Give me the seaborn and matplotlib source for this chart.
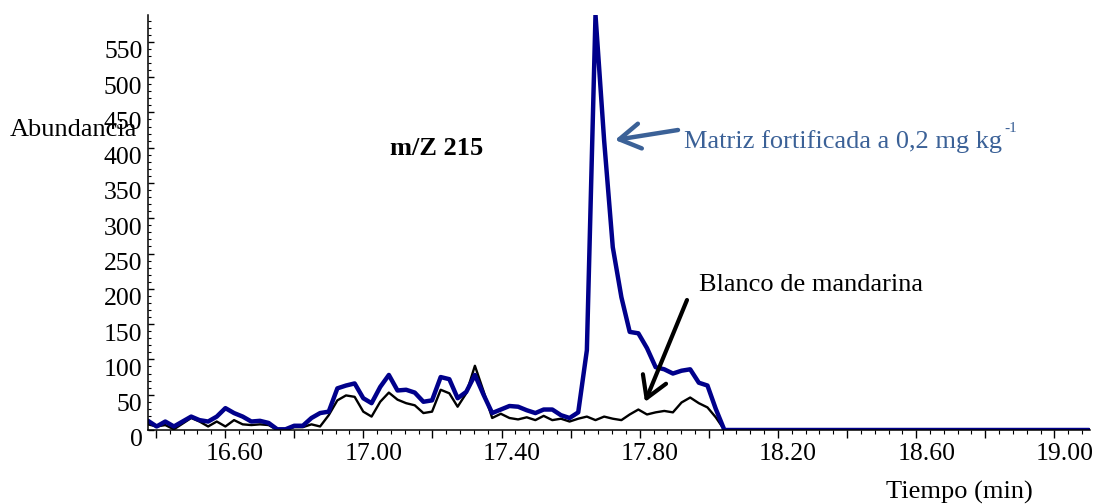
import numpy as np
import pandas as pd
import matplotlib
matplotlib.use('Agg')
import matplotlib.pyplot as plt
import matplotlib.transforms as mtransforms
from matplotlib.ticker import FixedLocator, FixedFormatter, MultipleLocator
import seaborn as sns

# ---------------- data ----------------
tiempo = [16.377, 16.402, 16.427, 16.452, 16.477, 16.502, 16.526, 16.551, 16.576, 16.601,
          16.626, 16.651, 16.676, 16.701, 16.726, 16.751, 16.775, 16.800, 16.825, 16.850,
          16.875, 16.900, 16.925, 16.950, 16.975, 17.000, 17.024, 17.049, 17.074, 17.099,
          17.124, 17.149, 17.174, 17.199, 17.224, 17.249, 17.273, 17.298, 17.323, 17.348,
          17.373, 17.398, 17.423, 17.448, 17.473, 17.498, 17.522, 17.547, 17.572, 17.597,
          17.622, 17.647, 17.672, 17.697, 17.722, 17.747, 17.771, 17.796, 17.821, 17.846,
          17.871, 17.896, 17.921, 17.946, 17.971, 17.996, 18.020, 18.045, 19.100]

matriz = [13, 5, 12, 5, 12, 19, 14, 12, 19, 31,
          24, 19, 12, 13, 10, 1, 1, 6, 6, 17,
          24, 26, 59, 63, 66, 45, 38, 61, 78, 56,
          57, 53, 40, 42, 75, 72, 45, 54, 78, 50,
          24, 29, 34, 33, 28, 24, 29, 29, 21, 17,
          25, 113, 588, 410, 259, 188, 139, 137, 116, 89,
          86, 80, 84, 86, 67, 63, 30, 0, 0]

blanco = [8, 5, 7, 1, 9, 17, 12, 5, 12, 5,
          14, 8, 7, 8, 7, 0, 0, 4, 4, 8,
          5, 21, 42, 49, 47, 26, 19, 40, 53, 43,
          38, 35, 24, 26, 57, 52, 33, 52, 91, 55,
          17, 23, 17, 15, 18, 14, 20, 14, 16, 12,
          16, 19, 14, 19, 16, 14, 22, 29, 22, 25,
          27, 25, 39, 46, 38, 32, 18, 0, 0]

x_ticks = [16.40, 16.60, 16.80, 17.00, 17.20, 17.40, 17.60, 17.80, 18.00,
           18.20, 18.40, 18.60, 18.80, 19.00]
x_tick_labels = ['', '16.60', '', '17.00', '', '17.40', '', '17.80', '',
                 '18.20', '', '18.60', '', '19.00']
y_ticks = [0, 50, 100, 150, 200, 250, 300, 350, 400, 450, 500, 550]
y_tick_labels = ['0', '50', '100', '150', '200', '250', '300', '350',
                 '400', '450', '500', '550']

# ---------------- style ----------------
sns.set_style('white')
plt.rcParams['font.family'] = ['Liberation Serif', 'DejaVu Serif']

W, H = 1096, 504
FS = 18.5
FT = 19


def px(x, y):
    return (x / W, 1 - y / H)


fig = plt.figure(figsize=(W / 100, H / 100), dpi=100)
ax = fig.add_axes([148 / W, (H - 430) / H, (1090 - 148) / W, (430 - 15) / H])

df = pd.DataFrame({'Tiempo': tiempo, 'Matriz': matriz, 'Blanco': blanco})
sns.lineplot(data=df, x='Tiempo', y='Blanco', color='black', lw=1.7, ax=ax)
sns.lineplot(data=df, x='Tiempo', y='Matriz', color='#00008B', lw=3.2, ax=ax)

ax.set_xlim(16.377, 19.103)
ax.set_ylim(0, 588)
ax.set_xlabel('')
ax.set_ylabel('')
sns.despine(ax=ax)
for s in ('left', 'bottom'):
    ax.spines[s].set_color('black')
    ax.spines[s].set_linewidth(1.1)

ax.xaxis.set_major_locator(FixedLocator(x_ticks))
ax.xaxis.set_major_formatter(FixedFormatter(x_tick_labels))
ax.xaxis.set_minor_locator(MultipleLocator(0.04))
ax.yaxis.set_major_locator(FixedLocator(y_ticks))
ax.yaxis.set_major_formatter(FixedFormatter(y_tick_labels))
ax.yaxis.set_minor_locator(MultipleLocator(10))

ax.tick_params(axis='x', which='major', direction='out', length=6, width=1,
               pad=3, labelsize=FS, bottom=True, colors='black')
ax.tick_params(axis='x', which='minor', direction='out', length=3, width=0.8,
               bottom=True, colors='black')
ax.tick_params(axis='y', which='major', direction='in', length=4, width=1,
               pad=4, labelsize=FS, left=True, colors='black')
ax.tick_params(axis='y', which='minor', direction='in', length=2.5, width=0.8,
               left=True, colors='black')

# label offsets of the original software
for t in ax.xaxis.get_major_ticks():
    t.label1.set_transform(t.label1.get_transform() +
                           mtransforms.ScaledTranslation(0.10, 0, fig.dpi_scale_trans))
for t in ax.yaxis.get_major_ticks():
    t.label1.set_transform(t.label1.get_transform() +
                           mtransforms.ScaledTranslation(0, -0.08, fig.dpi_scale_trans))

# ---------------- texts ----------------
fig.text(*px(10, 130), 'Abundancia', ha='left', va='center', fontsize=FT, color='black')
fig.text(*px(437, 148), 'm/Z 215', ha='center', va='center', fontsize=FT,
         fontweight='bold', color='black')
fig.text(*px(959, 492), 'Tiempo (min)', ha='center', va='center', fontsize=FT, color='black')

blue_txt = '#3b6197'
main = fig.text(*px(684, 148), 'Matriz fortificada a 0,2 mg kg', ha='left',
                va='baseline', fontsize=FT, color=blue_txt)
fig.canvas.draw()
bb = main.get_window_extent(renderer=fig.canvas.get_renderer())
fig.text((bb.x1 + 2) / W, 1 - 132 / H, '-1', ha='left', va='baseline',
         fontsize=11, color=blue_txt)
fig.text(*px(699, 291), 'Blanco de mandarina', ha='left', va='baseline',
         fontsize=FT, color='black')

ax.annotate('', xy=px(615, 140), xytext=px(678, 130), xycoords='figure fraction',
            textcoords='figure fraction',
            arrowprops=dict(arrowstyle='->,head_length=0.75,head_width=0.45', lw=3.2,
                            color=blue_txt, shrinkA=0, shrinkB=0, mutation_scale=20))
ax.annotate('', xy=px(645, 402), xytext=px(687, 300), xycoords='figure fraction',
            textcoords='figure fraction',
            arrowprops=dict(arrowstyle='->,head_length=0.75,head_width=0.45', lw=3,
                            color='black', shrinkA=0, shrinkB=0, mutation_scale=20))

fig.savefig('out.png', dpi=100, facecolor='white')
